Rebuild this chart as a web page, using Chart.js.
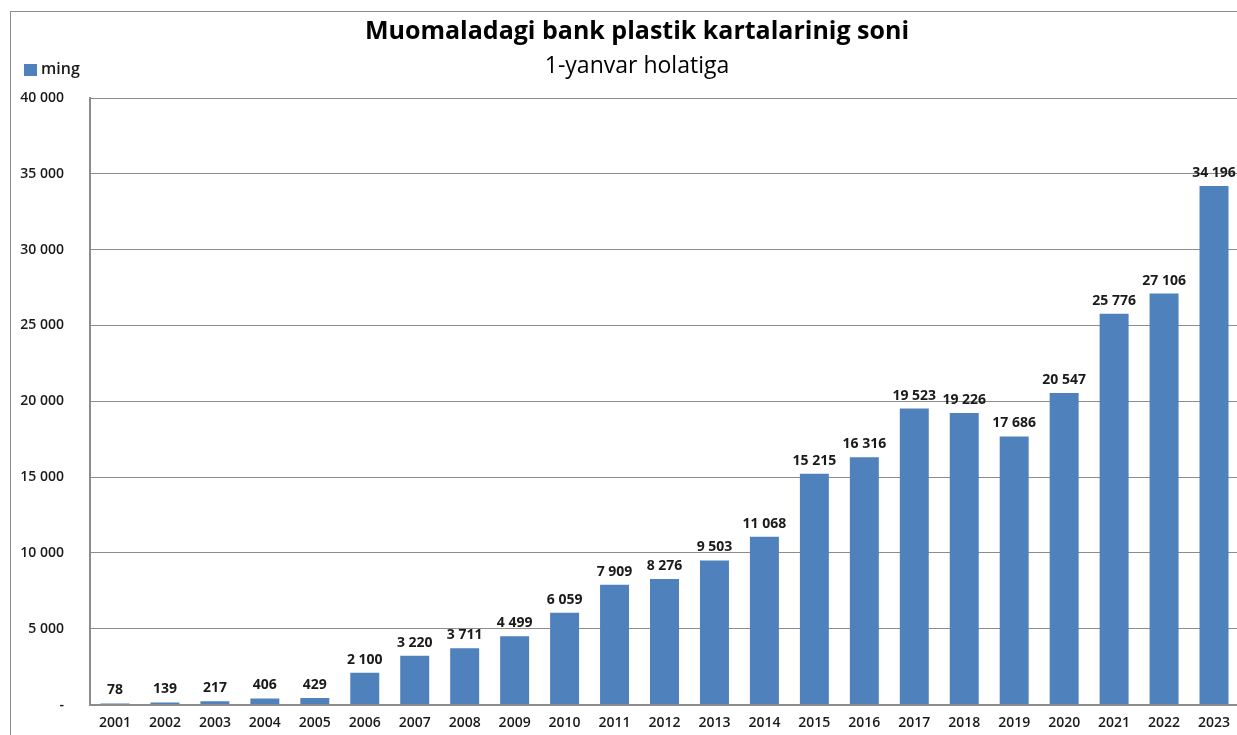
<!DOCTYPE html>
<html>
<head>
<meta charset="utf-8">
<script src="https://cdn.jsdelivr.net/npm/chart.js@4"></script>
<style>
  html, body { margin: 0; padding: 0; background: #ffffff; overflow: hidden; }
  #frame { position: absolute; left: 10px; top: 11px; width: 1300px; height: 800px; border: 1px solid #8c8c8c; }
  #wrap { position: absolute; left: 0; top: 0; width: 1274px; height: 739px; }
</style>
</head>
<body>
<div id="frame"></div>
<div id="wrap"><canvas id="cardsChart"></canvas></div>
<script>
// Muomaladagi bank plastik kartalari (ming dona), 1-yanvar holatiga
const years = ['2001', '2002', '2003', '2004', '2005', '2006', '2007', '2008', '2009', '2010', '2011', '2012',
  '2013', '2014', '2015', '2016', '2017', '2018', '2019', '2020', '2021', '2022', '2023'];
const cardCounts = [78, 139, 217, 406, 429, 2100, 3220, 3711, 4499, 6059, 7909, 8276,
  9503, 11068, 15215, 16316, 19523, 19226, 17686, 20547, 25776, 27106, 34196];
const seriesLabel = 'ming';
const titleText = 'Muomaladagi bank plastik kartalarinig soni';
const subtitleText = '1-yanvar holatiga';

const BAR_COLOR = '#4F81BD';
const GRID_COLOR = '#8c8c8c';
const FONT = "'Open Sans', 'DejaVu Sans', sans-serif";

// 12 345 -> "12 345", 0 -> "-"
function fmt(v) {
  if (v === 0) return '-';
  return String(v).replace(/\B(?=(\d{3})+(?!\d))/g, ' ');
}

// title block is a bit off-centre in the original, so it is drawn here
const headerPlugin = {
  id: 'header',
  afterDraw(chart) {
    const ctx = chart.ctx;
    ctx.save();
    ctx.fillStyle = '#000000';
    ctx.textAlign = 'center';
    ctx.textBaseline = 'middle';
    ctx.font = 'bold 25px ' + FONT;
    ctx.fillText(titleText, 637, 32);
    ctx.font = '23px ' + FONT;
    ctx.fillText(subtitleText, 637, 66);

    // legend
    const ds = chart.data.datasets[0];
    ctx.fillStyle = ds.backgroundColor;
    ctx.fillRect(24, 64, 13, 12);
    ctx.fillStyle = '#1a1a1a';
    ctx.font = '600 16px ' + FONT;
    ctx.textAlign = 'left';
    ctx.fillText(ds.label, 41, 69);
    ctx.restore();
  }
};

// value labels above bars
const barLabels = {
  id: 'barLabels',
  afterDatasetsDraw(chart) {
    const ctx = chart.ctx;
    const meta = chart.getDatasetMeta(0);
    ctx.save();
    ctx.font = 'bold 14px ' + FONT;
    ctx.fillStyle = '#1a1a1a';
    ctx.textAlign = 'center';
    ctx.textBaseline = 'bottom';
    meta.data.forEach((bar, i) => {
      ctx.fillText(fmt(chart.data.datasets[0].data[i]), bar.x, bar.y - 6);
    });
    ctx.restore();
  }
};

const ctx = document.getElementById('cardsChart').getContext('2d');
new Chart(ctx, {
  type: 'bar',
  data: {
    labels: years,
    datasets: [{
      label: seriesLabel,
      data: cardCounts,
      backgroundColor: BAR_COLOR,
      barPercentage: 0.58,
      categoryPercentage: 1.0
    }]
  },
  options: {
    responsive: true,
    maintainAspectRatio: false,
    animation: false,
    layout: { padding: { left: 0, right: 35, top: 98, bottom: 0 } },
    plugins: {
      legend: { display: false },
      tooltip: { enabled: false },
      title: { display: false }
    },
    scales: {
      x: {
        grid: { display: false, drawTicks: false },
        border: { display: true, color: GRID_COLOR, width: 2 },
        ticks: {
          color: '#1a1a1a',
          font: { family: FONT, size: 14, weight: '600' },
          padding: 10,
          maxRotation: 0,
          autoSkip: false
        },
        afterFit(scale) { scale.height = 27; }
      },
      y: {
        min: 0,
        max: 40000,
        grid: { color: GRID_COLOR, lineWidth: 1, drawTicks: false },
        border: { display: true, color: GRID_COLOR, width: 2 },
        ticks: {
          stepSize: 5000,
          color: '#1a1a1a',
          font: { family: FONT, size: 14, weight: '600' },
          padding: 26,
          callback: (v) => fmt(v)
        },
        afterFit(scale) { scale.width = 90; }
      }
    }
  },
  plugins: [barLabels, headerPlugin]
});
</script>
</body>
</html>
